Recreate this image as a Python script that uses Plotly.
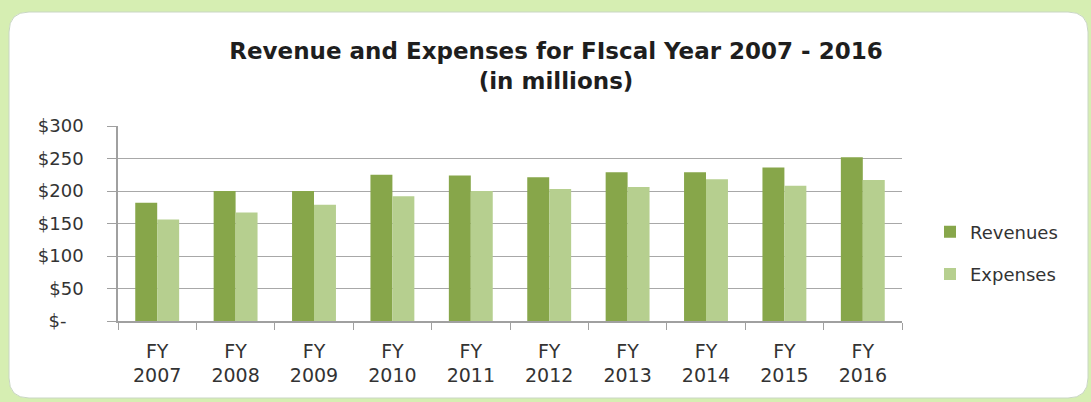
import plotly.graph_objects as go

categories = ["FY<br>2007", "FY<br>2008", "FY<br>2009", "FY<br>2010", "FY<br>2011",
              "FY<br>2012", "FY<br>2013", "FY<br>2014", "FY<br>2015", "FY<br>2016"]
revenues = [182, 200, 200, 225, 224, 221, 229, 229, 236, 252]
expenses = [156, 167, 179, 192, 200, 203, 206, 218, 208, 217]
y_tickvals = [0, 50, 100, 150, 200, 250, 300]
y_ticktext = ["$-\u00a0\u00a0\u00a0", "$50", "$100", "$150", "$200", "$250", "$300"]

W, H = 1091, 402
L, R, T, B = 118, 189, 126, 81
PW, PH = W - L - R, H - T - B


def px_x(x):
    return (x - L) / PW


def px_y(y):
    return (H - B - y) / PH


def rounded_rect(x0, y0, x1, y1, r):
    pts = []
    pts.append(f"M {px_x(x0 + r)} {px_y(y0)}")
    pts.append(f"L {px_x(x1 - r)} {px_y(y0)}")
    pts.append(f"Q {px_x(x1)} {px_y(y0)} {px_x(x1)} {px_y(y0 + r)}")
    pts.append(f"L {px_x(x1)} {px_y(y1 - r)}")
    pts.append(f"Q {px_x(x1)} {px_y(y1)} {px_x(x1 - r)} {px_y(y1)}")
    pts.append(f"L {px_x(x0 + r)} {px_y(y1)}")
    pts.append(f"Q {px_x(x0)} {px_y(y1)} {px_x(x0)} {px_y(y1 - r)}")
    pts.append(f"L {px_x(x0)} {px_y(y0 + r)}")
    pts.append(f"Q {px_x(x0)} {px_y(y0)} {px_x(x0 + r)} {px_y(y0)}")
    pts.append("Z")
    return " ".join(pts)


fig = go.Figure()
fig.add_trace(go.Bar(x=categories, y=revenues, name="Revenues",
                     marker=dict(color="#87a64a", line=dict(width=0)),
                     legendgroup="a"))
fig.add_trace(go.Bar(x=categories, y=expenses, name="Expenses",
                     marker=dict(color="#b6cf8f", line=dict(width=0)),
                     legendgroup="b"))

title_font = "DejaVu Sans, Open Sans, sans-serif"
tick_font = "DejaVu Sans, Open Sans, sans-serif"

fig.update_layout(
    width=W, height=H,
    margin=dict(l=L, r=R, t=T, b=B, pad=0),
    paper_bgcolor="#d6eeb2",
    plot_bgcolor="rgba(0,0,0,0)",
    barmode="group",
    bargap=0.44,
    bargroupgap=0,
    title=dict(
        text="<b>Revenue and Expenses for FIscal Year 2007 - 2016<br>(in millions)</b>",
        x=556 / W, xanchor="center", xref="container",
        y=1 - 59 / H, yanchor="middle", yref="container",
        font=dict(family=title_font, size=23, color="#1e1e1e"),
    ),
    legend=dict(
        x=px_x(930), xanchor="left", y=px_y(253), yanchor="middle",
        font=dict(family=tick_font, size=18, color="#333333"),
        tracegroupgap=16, bgcolor="rgba(0,0,0,0)",
    ),
    shapes=[dict(
        type="path", xref="paper", yref="paper",
        path=rounded_rect(9, 12, 1088, 398, 20),
        fillcolor="white", line=dict(color="#c9d6c4", width=1),
        layer="below",
    )],
)

fig.update_yaxes(
    range=[0, 300],
    tickvals=y_tickvals, ticktext=y_ticktext,
    showgrid=True, gridcolor="#a8a8a8", gridwidth=1,
    showline=True, linecolor="#a0a0a0", linewidth=1.5,
    ticks="outside", ticklen=9, tickcolor="#a0a0a0",
    ticklabelstandoff=20,
    tickfont=dict(family=tick_font, size=18, color="#333333"),
    zeroline=False,
)
fig.update_xaxes(
    showline=True, linecolor="#a0a0a0", linewidth=1.5,
    ticks="outside", ticklen=7, tickcolor="#a0a0a0",
    tickson="boundaries",
    ticklabelstandoff=12,
    tickfont=dict(family=tick_font, size=19, color="#333333"),
    showgrid=False,
)

fig.write_html("out.html",
               config={"displayModeBar": False},
               post_script="document.body.style.margin='0';document.body.style.overflow='hidden';")
